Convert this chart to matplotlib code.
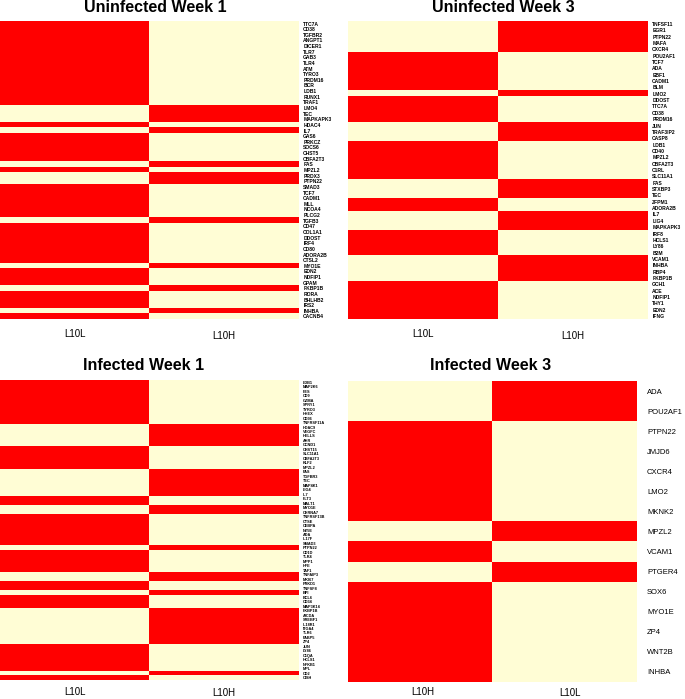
import numpy as np
import matplotlib
matplotlib.use("Agg")
import matplotlib.pyplot as plt
from matplotlib.colors import ListedColormap

plt.rcParams['font.family'] = ['Liberation Sans', 'DejaVu Sans']

W, H = 685, 699

# --- Uninfected Week 1 (1 = red in L10L, else red in L10H) ---
uw1_genes = ["TTC7A", "CD38", "TGFBR2", "ANGPT1", "DICER1", "TLR7", "GAB3", "TLR4", "ATM",
             "TYRO3", "PRDM16", "BCR", "LDB1", "RUNX1", "TRAF1", "LMO4", "TEC", "MAPKAPK3",
             "HDAC4", "IL7", "GAS6", "PRKCZ", "SOCS6", "CHST5", "CBFA2T3", "FAS", "MPZL2",
             "PRDX3", "PTPN22", "SMAD3", "TCF7", "CADM1", "MLL", "NCOA4", "PLCG2", "TGFB3",
             "CD47", "COL1A1", "DDOST", "IRF4", "CD80", "ADORA2B", "CTSL2", "MYO1E", "EDN2",
             "NDFIP1", "GPAM", "FKBP1B", "RORA", "BHLHB2", "IRS2", "INHBA", "CACNB4"]
uw1_l10l = [1, 1, 1, 1, 1, 1, 1, 1, 1, 1, 1, 1, 1, 1, 1, 0, 0, 0, 1, 0,
            1, 1, 1, 1, 1, 0, 1, 0, 0, 1, 1, 1, 1, 1, 1, 0, 1, 1, 1, 1,
            1, 1, 1, 0, 1, 1, 1, 0, 1, 1, 1, 0, 1]

# --- Uninfected Week 3 ---
uw3_genes = ["TNFSF11", "EGR1", "PTPN22", "MAFA", "CXCR4", "POU2AF1", "TCF7", "ADA", "EBF1",
             "CADM1", "BLM", "LMO2", "DDOST", "TTC7A", "CD38", "PRDM16", "JUN", "TRAF3IP2",
             "CASP8", "LDB1", "CD40", "MPZL2", "CBFA2T3", "C1RL", "SLC11A1", "FAS", "STXBP3",
             "TEC", "ZFPM1", "ADORA2B", "IL7", "LIG4", "MAPKAPK3", "IRF8", "HCLS1", "LY86",
             "B2M", "VCAM1", "INHBA", "RBP4", "FKBP1B", "GCH1", "ACE", "NDFIP1", "THY1",
             "EDN2", "IFNG"]
uw3_l10l = [0, 0, 0, 0, 0, 1, 1, 1, 1, 1, 1, 0, 1, 1, 1, 1, 0, 0, 0, 1,
            1, 1, 1, 1, 1, 0, 0, 0, 1, 1, 0, 0, 0, 1, 1, 1, 1, 0, 0, 0,
            0, 1, 1, 1, 1, 1, 1]

# --- Infected Week 1 ---
iw1_genes = ["LDB1", "MAP2K6", "FES", "CD9", "GZMA", "SPRY1", "TYRO3", "HHEX", "CD36",
             "TNFRSF11A", "HDAC9", "VEGFC", "HELLS", "AHR", "CCND1", "CHST15", "SLC11A1",
             "CBFA2T3", "KLF2", "MPZL2", "FAS", "TGFBR3", "TEC", "MAP4K1", "LIG4", "IL7",
             "FLT3", "MALT1", "MYO1E", "CHRNA7", "TNFRSF13B", "CTSE", "CEBPA", "NT5E", "ADA",
             "IL17F", "SMAD3", "PTPN22", "CD1D", "TLR4", "MPP1", "HFE", "TAF1", "TNFAIP3",
             "MKI67", "PRKD1", "TNFSF8", "BPI", "BCL6", "CD34", "MAP3K14", "FKBP1B", "AICDA",
             "SREBF1", "IL18R1", "ITGA4", "TLR6", "FABP5", "ZP4", "JUN", "LY86", "C1QA",
             "HCLS1", "NFKB1", "MPL", "CD2", "CISH"]
iw1_l10l = [1, 1, 1, 1, 1, 1, 1, 1, 1, 1, 0, 0, 0, 0, 0, 1, 1, 1, 1, 1,
            0, 0, 0, 0, 0, 0, 1, 1, 0, 0, 1, 1, 1, 1, 1, 1, 1, 0, 1, 1,
            1, 1, 1, 0, 0, 1, 1, 0, 1, 1, 1, 0, 0, 0, 0, 0, 0, 0, 0, 1,
            1, 1, 1, 1, 1, 0, 1]

# --- Infected Week 3 (columns L10H, L10L) ---
iw3_genes = ["ADA", "POU2AF1", "PTPN22", "JMJD6", "CXCR4", "LMO2", "MKNK2", "MPZL2",
             "VCAM1", "PTGER4", "SOX6", "MYO1E", "ZP4", "WNT2B", "INHBA"]
iw3_l10h = [0, 0, 1, 1, 1, 1, 1, 0, 1, 0, 1, 1, 1, 1, 1]

RED = "#FF0000"
CREAM = "#FFFDD5"
cmap = ListedColormap([CREAM, RED])


def px_axes(fig, x0, y0, x1, y1):
    return fig.add_axes([x0 / W, 1 - y1 / H, (x1 - x0) / W, (y1 - y0) / H])


def ftext(fig, x, y, s, **kw):
    fig.text(x / W, 1 - y / H, s, ha='center', va='center', **kw)


def panel(fig, box, title, tpos, genes, first_col, cols, cpos, gsize, gweight='bold', gpad=3):
    first = np.array(first_col)
    mat = np.column_stack([first, 1 - first])
    ax = px_axes(fig, *box)
    ax.imshow(mat, cmap=cmap, vmin=0, vmax=1, aspect='auto', interpolation='nearest')
    ax.set_xticks([])
    ax.yaxis.tick_right()
    ax.set_yticks(range(len(genes)))
    ax.set_yticklabels(genes, fontsize=gsize, fontweight=gweight)
    ax.tick_params(axis='y', length=0, pad=gpad)
    for s in ax.spines.values():
        s.set_visible(False)
    ftext(fig, tpos[0], tpos[1], title, fontsize=11.5, fontweight='bold')
    for c, (x, y) in zip(cols, cpos):
        ftext(fig, x, y, c, fontsize=7)


fig = plt.figure(figsize=(W / 100, H / 100), dpi=100)

panel(fig, (0, 20.7, 299, 319.3), "Uninfected Week 1", (155, 8), uw1_genes, uw1_l10l,
      ["L10L", "L10H"], [(75, 334), (224, 336)], 3.6)
panel(fig, (348.3, 20.7, 648, 319.3), "Uninfected Week 3", (503, 8), uw3_genes, uw3_l10l,
      ["L10L", "L10H"], [(423, 334), (573, 336)], 3.6)
panel(fig, (0, 380, 299, 680), "Infected Week 1", (144, 366), iw1_genes, iw1_l10l,
      ["L10L", "L10H"], [(75, 692), (224, 693)], 2.8)
panel(fig, (348, 381, 636, 682), "Infected Week 3", (491, 366), iw3_genes, iw3_l10h,
      ["L10H", "L10L"], [(423, 692), (570, 693)], 5.5, 'normal', 8)

fig.savefig("out.png", dpi=100)
